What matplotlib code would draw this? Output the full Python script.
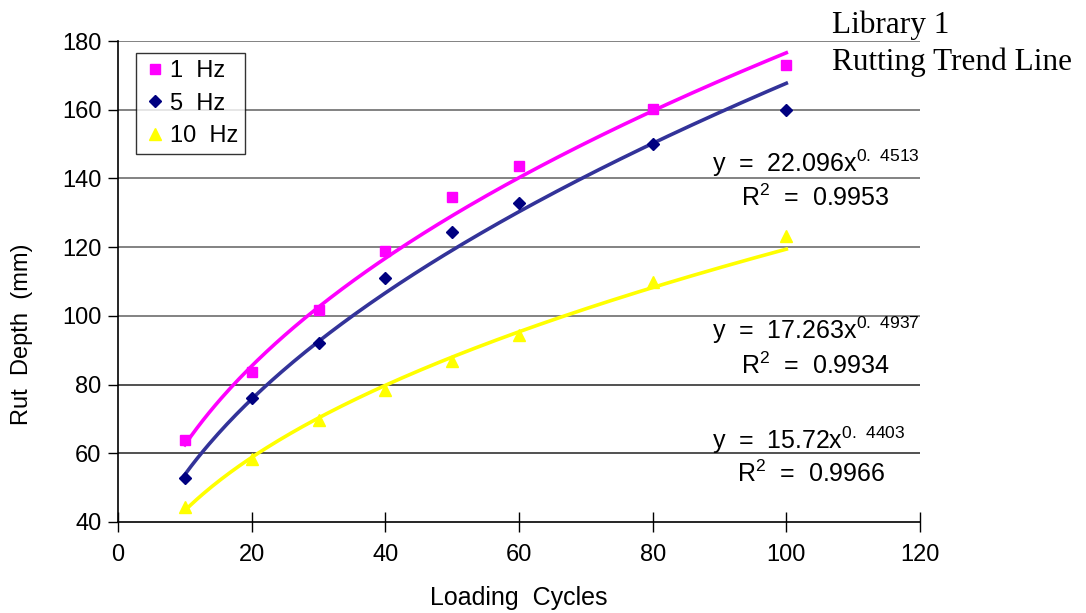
import numpy as np
import matplotlib
matplotlib.use("Agg")
import matplotlib.pyplot as plt

cycles = [10, 20, 30, 40, 50, 60, 80, 100]
hz1 = [63.9, 83.6, 101.7, 118.9, 134.6, 143.6, 160.2, 173.0]
hz5 = [52.8, 76.1, 92.0, 110.9, 124.3, 132.9, 150.0, 159.9]
hz10 = [44.5, 58.2, 69.7, 78.4, 86.9, 94.4, 109.8, 123.2]
fit_a = [22.096, 17.263, 15.72]
fit_b = [0.4513, 0.4937, 0.4403]
r2 = [0.9953, 0.9934, 0.9966]
labels = ["1  Hz", "5  Hz", "10  Hz"]

plt.rcParams["mathtext.fontset"] = "custom"
plt.rcParams["mathtext.rm"] = "Liberation Sans"
sans = "Liberation Sans"

fig = plt.figure(figsize=(10.86, 6.13), dpi=100)
ax = fig.add_axes([0.1087, 0.1485, 0.8471 - 0.1087, 0.9331 - 0.1485])

series = [hz1, hz5, hz10]
mcol = ["#ff00ff", "#000080", "#ffff00"]
lcol = ["#ff00ff", "#333399", "#ffff00"]
mk = ["s", "D", "^"]
msz = [7.5, 6.5, 8.5]
xs = np.linspace(10, 100, 200)
for i in range(3):
    ax.plot(xs, fit_a[i] * xs ** fit_b[i], color=lcol[i], lw=2.6, zorder=2)
for i in range(3):
    ax.plot(cycles, series[i], linestyle="none", marker=mk[i], color=mcol[i],
            markersize=msz[i], label=labels[i], zorder=3)

ax.set_xlim(0, 120)
ax.set_ylim(40, 180)
ax.set_xticks(range(0, 121, 20))
ax.set_yticks(range(40, 181, 20))
for yv in range(60, 181, 20):
    ax.axhline(yv, color="#606060" if yv >= 100 else "#222222", lw=1.1, zorder=1)
for s in ["top", "right"]:
    ax.spines[s].set_visible(False)
ax.spines["left"].set_linewidth(1.2)
ax.spines["bottom"].set_linewidth(1.2)
ax.tick_params(axis="x", direction="inout", length=14, width=1, labelsize=17, pad=9)
ax.tick_params(axis="y", direction="out", length=7, width=1, labelsize=17, pad=5)
for lab in ax.get_xticklabels() + ax.get_yticklabels():
    lab.set_fontfamily(sans)

ax.set_xlabel("Loading  Cycles", fontsize=18, fontfamily=sans, labelpad=14)
ax.set_ylabel("Rut  Depth  (mm)", fontsize=17, fontfamily=sans)
ax.yaxis.set_label_coords(-0.106, 0.39)

leg = ax.legend(loc="upper left", bbox_to_anchor=(0.022, 0.975), frameon=True,
                fancybox=False, edgecolor="black", prop={"family": sans, "size": 17},
                handletextpad=0.15, borderpad=0.3, labelspacing=0.45, handlelength=1.0,
                borderaxespad=0)
leg.get_frame().set_linewidth(1.0)

eq_y = [163, 330, 440]
r_y = [198, 366, 474]
r_x = [741, 741, 737]
for i in range(3):
    fig.text(712 / 1086, 1 - eq_y[i] / 613,
             r"y  =  %sx$^{\mathrm{%s}}$" % (fit_a[i], ("%.4f" % fit_b[i]).replace(".", r".\ ")),
             ha="left", va="center", fontsize=18, fontfamily=sans)
    fig.text(r_x[i] / 1086, 1 - r_y[i] / 613, r"R$^{\mathrm{2}}$  =  %.4f" % r2[i],
             ha="left", va="center", fontsize=18, fontfamily=sans)

fig.text(832 / 1086, 1 - 33 / 613, "Library 1", ha="left", va="baseline",
         fontsize=22.5, fontfamily="Liberation Serif")
fig.text(832 / 1086, 1 - 70 / 613, "Rutting Trend Line", ha="left", va="baseline",
         fontsize=22.5, fontfamily="Liberation Serif")

fig.savefig("out.png", dpi=100)
